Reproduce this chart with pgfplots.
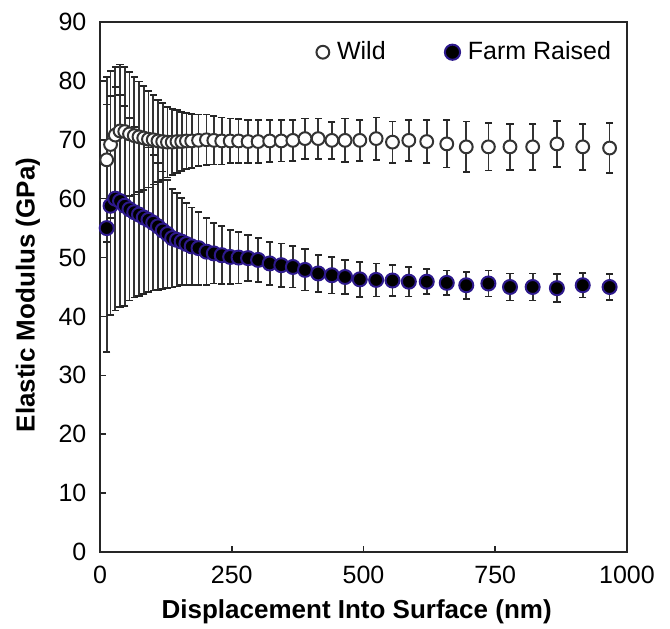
\documentclass[border=0pt]{standalone}
\usepackage{fontspec}
\setmainfont{Liberation Sans}
\usepackage{pgfplots}
\pgfplotsset{compat=1.18}
\usepackage{pgfplotstable}
\definecolor{farmedge}{RGB}{45,25,140}

\pgfplotstableread{
x y e
12.7 66.6 14
20 69.2 12.5
29 70.8 11.5
38 71.5 11.3
47 71.4 11
56 71.0 10.5
65 70.7 10
74 70.5 9.4
83 70.3 8.8
92 70.1 8.2
101 70.0 7.6
110 69.8 7.0
119 69.7 6.5
128 69.6 6.0
137 69.6 5.6
146 69.7 5.3
155 69.7 5.0
164 69.8 4.8
174 69.8 4.6
187 69.9 4.4
202 70.0 4.3
216 69.9 4.1
231 69.8 4.0
247 69.8 3.8
263 69.8 3.7
281 69.7 3.7
300 69.7 3.6
322 69.8 3.6
344 69.8 3.5
366 69.9 3.5
389 70.2 3.4
414 70.2 3.4
440 69.9 3.1
465 69.9 3.7
493 69.9 3.5
524 70.2 3.6
555 69.6 3.5
586 69.9 3.5
620 69.7 3.6
658 69.3 4.0
695 68.8 4.3
737 68.8 4.0
778 68.8 3.9
821 68.8 3.9
867 69.3 3.9
916 68.8 3.9
967 68.6 4.3
}\wild

\pgfplotstableread{
x y e
12.7 55.0 21
20 58.8 18.6
29 60.0 19
38 59.6 18
47 58.8 17
56 58.2 15.5
65 57.7 14.5
74 57.3 13.8
83 56.8 13
92 56.4 12.3
101 55.9 11.5
110 55.3 10.8
119 54.6 10
128 54.0 9.2
137 53.3 8.4
146 53.0 7.9
155 52.7 7.4
164 52.3 7.0
174 51.9 6.6
187 51.6 6.2
202 51.0 5.7
216 50.7 5.1
231 50.4 4.9
247 50.1 4.6
263 50.0 4.4
281 49.9 3.9
300 49.6 3.7
322 49.0 3.7
344 48.7 3.7
366 48.4 3.5
389 47.9 3.5
414 47.3 3.1
440 47.0 3.1
465 46.7 2.9
493 46.3 3.0
524 46.2 2.8
555 46.1 2.6
586 45.9 2.5
620 45.9 2.1
658 45.7 2.1
695 45.3 2.3
737 45.6 2.2
778 45.0 2.3
821 45.0 2.3
867 44.8 2.4
916 45.3 2.1
967 45.0 2.2
}\farm

\begin{document}
\begin{tikzpicture}
\begin{axis}[
  name=ax,
  scale only axis,
  width=263.5pt, height=265pt,
  xmin=0, xmax=1000, ymin=0, ymax=90,
  xtick={0,250,500,750,1000},
  ytick={0,10,...,90},
  tick align=inside,
  xtick pos=bottom, ytick pos=left,
  major tick length=3pt,
  axis line style={line width=1pt, black!85},
  tick style={line width=0.8pt, black!85},
  /pgf/number format/assume math mode=true,
  /pgf/number format/1000 sep={},
  ticklabel style={font=\fontsize{12.5}{15}\selectfont},
  xticklabel style={yshift=-3.5pt},
  yticklabel style={xshift=-3.3pt},
  xlabel={Displacement Into Surface (nm)},
  ylabel={Elastic Modulus (GPa)},
  label style={font=\fontsize{13}{15}\selectfont\bfseries},
  xlabel style={at={(axis description cs:0.487,-0.113)}, anchor=center},
  ylabel style={at={(axis description cs:-0.137,0.485)}, anchor=center},
  clip=false,
  legend columns=2,
  legend style={at={(axis description cs:0.41,0.943)}, anchor=west, draw=none, fill=none,
    inner sep=0pt, font=\fontsize{12.5}{15}\selectfont,
    /tikz/every odd column/.append style={column sep=1.9pt},
    /tikz/every even column/.append style={column sep=27.6pt}},
  legend image code/.code={\draw[#1] plot coordinates {(0pt,0pt)};},
  capstyle/.style={forget plot, only marks, mark=-, mark size=1.8pt,
    mark options={line width=0.9pt, draw=black!85}},
]
% error bar stems
\addplot[forget plot, only marks, mark=*, mark options={draw=none, fill=none},
  error bars/.cd, y dir=both, y explicit, error mark=none,
  error bar style={line width=0.85pt, draw=black!80}]
  table[x=x, y=y, y error=e]{\farm};
\addplot[forget plot, only marks, mark=*, mark options={draw=none, fill=none},
  error bars/.cd, y dir=both, y explicit, error mark=none,
  error bar style={line width=0.85pt, draw=black!80}]
  table[x=x, y=y, y error=e]{\wild};
% error bar caps
\addplot[capstyle] table[x=x, y expr=\thisrow{y}+\thisrow{e}]{\farm};
\addplot[capstyle] table[x=x, y expr=\thisrow{y}-\thisrow{e}]{\farm};
\addplot[capstyle] table[x=x, y expr=\thisrow{y}+\thisrow{e}]{\wild};
\addplot[capstyle] table[x=x, y expr=\thisrow{y}-\thisrow{e}]{\wild};
% markers
\addplot[only marks, mark=*, mark size=3.2pt,
  mark options={fill=white, draw=black!80, line width=1pt},
  legend image post style={mark size=3.2pt}]
  table[x=x, y=y]{\wild};
\addlegendentry{Wild}
\addplot[only marks, mark=*, mark size=3.5pt,
  mark options={fill=black, draw=farmedge, line width=1pt},
  legend image post style={mark size=3.8pt}]
  table[x=x, y=y]{\farm};
\addlegendentry{Farm Raised}
\end{axis}
\pgfresetboundingbox
\path[use as bounding box] ([xshift=-50pt,yshift=-38.5pt]ax.south west) rectangle ([xshift=21.5pt,yshift=11pt]ax.north east);
\end{tikzpicture}
\end{document}
